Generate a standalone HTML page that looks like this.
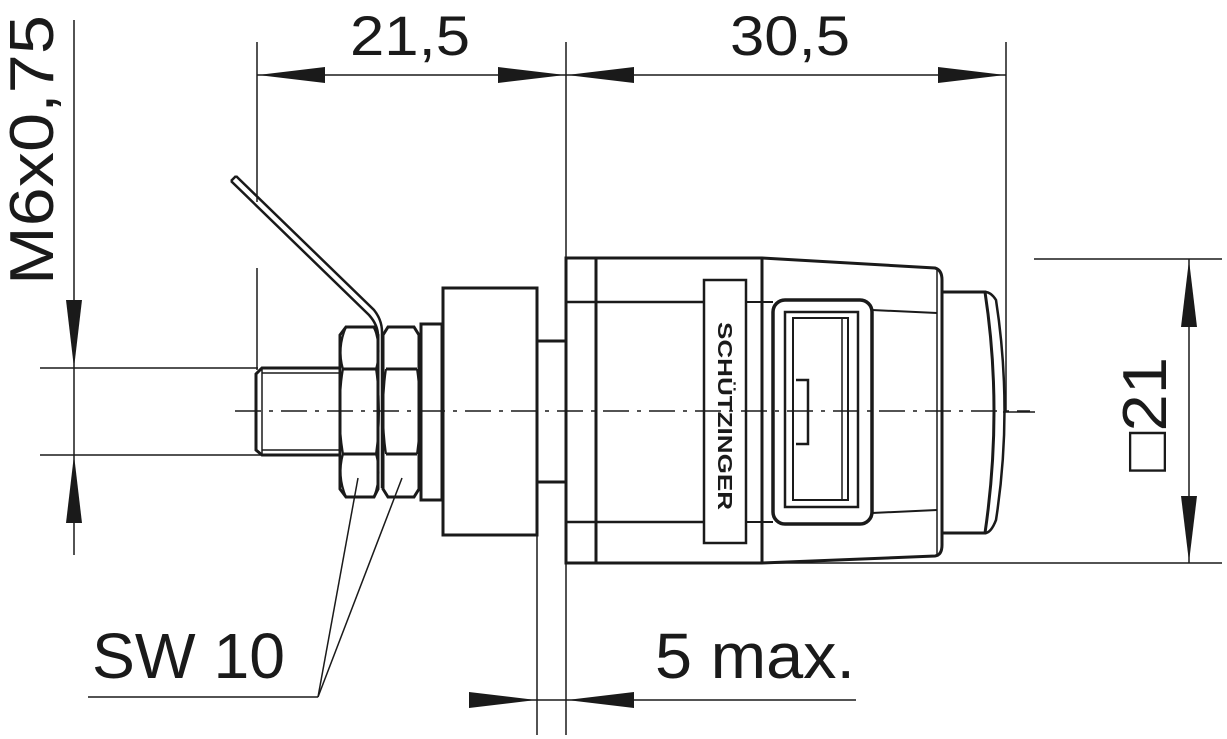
<!DOCTYPE html>
<html><head><meta charset="utf-8"><style>
html,body{margin:0;padding:0;background:#fff}
svg{display:block}
text{font-family:"Liberation Sans",sans-serif;fill:#1a1a1a}
</style></head><body>
<svg width="1227" height="739" viewBox="0 0 1227 739" xmlns="http://www.w3.org/2000/svg">
<g stroke="#1a1a1a" fill="none" stroke-width="1.5">
<line x1="257" y1="42" x2="257" y2="202"/>
<line x1="257" y1="268" x2="257" y2="370"/>
<line x1="566" y1="42" x2="566" y2="258"/>
<line x1="1006" y1="42" x2="1006" y2="412"/>
<line x1="257" y1="75" x2="1006" y2="75"/>
<line x1="74" y1="20" x2="74" y2="555"/>
<line x1="40" y1="368" x2="258" y2="368"/>
<line x1="40" y1="455" x2="262" y2="455"/>
<line x1="1034" y1="259" x2="1222" y2="259"/>
<line x1="566" y1="563" x2="1222" y2="563"/>
<line x1="1189" y1="259" x2="1189" y2="563"/>
<line x1="1003" y1="412" x2="1035" y2="412"/>
<line x1="537" y1="535" x2="537" y2="735"/>
<line x1="566" y1="563" x2="566" y2="735"/>
<line x1="470" y1="700" x2="856" y2="700"/>
<line x1="88" y1="697" x2="318" y2="697"/>
<line x1="318" y1="697" x2="358" y2="478"/>
<line x1="318" y1="697" x2="402" y2="478"/>
<line x1="235" y1="411" x2="1030" y2="411" stroke-dasharray="26,8,4,8"/>
</g>
<g fill="#1a1a1a">
<polygon points="258,75 325,67 325,83"/>
<polygon points="565,75 498,67 498,83"/>
<polygon points="567,75 634,67 634,83"/>
<polygon points="1005,75 938,67 938,83"/>
<polygon points="74,368 66,300 82,300"/>
<polygon points="74,455 66,523 82,523"/>
<polygon points="1189,260 1181,327 1197,327"/>
<polygon points="1189,562 1181,496 1197,496"/>
<polygon points="536,700 469,692 469,708"/>
<polygon points="567,700 634,692 634,708"/>
</g>
<g stroke="#1a1a1a" fill="none" stroke-width="3">
<path d="M340,368 L262,368 L256,374 L256,450 L262,455 L340,455"/>
<line x1="262" y1="368" x2="262" y2="455" stroke-width="1.5"/>
<line x1="262" y1="373" x2="340" y2="373" stroke-width="1.5"/>
<line x1="262" y1="450" x2="340" y2="450" stroke-width="1.5"/>
<path d="M236,176 L374,310 Q382,320 382,332 L382,488" stroke-width="2.5"/>
<path d="M231,181 L369,315 Q378,325 378,336 L378,488" stroke-width="2.5"/>
<line x1="231" y1="181" x2="236" y2="176" stroke-width="2.5"/>
<path d="M346,327 L374,327 L378,335 L378,489 L374,497 L346,497 L340,489 L340,335 Z"/>
<line x1="343" y1="369" x2="376" y2="369"/>
<line x1="343" y1="454" x2="376" y2="454"/>
<path d="M343,369 Q337,348 346,327" stroke-width="2"/>
<path d="M376,369 Q382,348 374,327" stroke-width="2"/>
<path d="M343,369 Q336,411 343,454" stroke-width="2"/>
<path d="M376,369 Q382,411 376,454" stroke-width="2"/>
<path d="M343,454 Q337,476 346,497" stroke-width="2"/>
<path d="M376,454 Q382,476 374,497" stroke-width="2"/>
<path d="M388,327 L414,327 L419,335 L419,489 L414,497 L388,497 L383,489 L383,335 Z"/>
<line x1="386" y1="369" x2="417" y2="369"/>
<line x1="386" y1="454" x2="417" y2="454"/>
<path d="M386,369 Q380,411 386,454" stroke-width="2"/>
<path d="M417,369 Q423,411 417,454" stroke-width="2"/>
<rect x="421" y="324" width="21" height="176"/>
<rect x="443" y="288" width="94" height="247"/>
<path d="M537,341 L566,341 M537,482 L566,482"/>
<path d="M566,258 L762,258 L935,268 Q942,270 942,280 L942,545 Q942,555 935,556 L762,563 L566,563 Z"/>
<line x1="596" y1="258" x2="596" y2="563"/>
<line x1="762" y1="258" x2="762" y2="563"/>
<line x1="566" y1="302" x2="704" y2="302" stroke-width="2.5"/>
<line x1="566" y1="522" x2="704" y2="522" stroke-width="2.5"/>
<line x1="746" y1="302" x2="773" y2="302" stroke-width="2"/>
<line x1="746" y1="522" x2="773" y2="522" stroke-width="2"/>
<line x1="872" y1="310" x2="937" y2="313" stroke-width="2"/>
<line x1="872" y1="513" x2="937" y2="510" stroke-width="2"/>
<line x1="937" y1="270" x2="937" y2="555" stroke-width="1.5"/>
<rect x="704" y="280" width="42" height="263" stroke-width="2.5"/>
<rect x="773" y="300" width="99" height="224" rx="12" stroke-width="3.5"/>
<rect x="785" y="312" width="73" height="195" stroke-width="2.5"/>
<rect x="793" y="318" width="55" height="182" stroke-width="2"/>
<line x1="842" y1="318" x2="842" y2="500" stroke-width="1.5"/>
<path d="M796,380 L808,380 L808,444 L796,444" stroke-width="2.5"/>
<path d="M942,292 L985,292 Q1003,410 985,533 L942,533"/>
<path d="M985,292 Q991,292 996,300 Q1013,410 996,520 Q991,533 985,533" stroke-width="2.5"/>
</g>
<text x="350" y="55" font-size="56" textLength="120" lengthAdjust="spacingAndGlyphs">21,5</text>
<text x="730" y="55" font-size="56" textLength="120" lengthAdjust="spacingAndGlyphs">30,5</text>
<text transform="translate(53,285) rotate(-90)" font-size="62" textLength="270" lengthAdjust="spacingAndGlyphs">M6x0,75</text>
<text transform="translate(1166,472) rotate(-90)" font-size="62" textLength="115" lengthAdjust="spacingAndGlyphs">□21</text>
<text x="92" y="678" font-size="64" textLength="193" lengthAdjust="spacingAndGlyphs">SW 10</text>
<text x="655" y="678" font-size="64" textLength="200" lengthAdjust="spacingAndGlyphs">5 max.</text>
<text transform="translate(718,322) rotate(90)" font-size="20" font-weight="bold" textLength="188" lengthAdjust="spacingAndGlyphs">SCHÜTZINGER</text>
</svg>
</body></html>
